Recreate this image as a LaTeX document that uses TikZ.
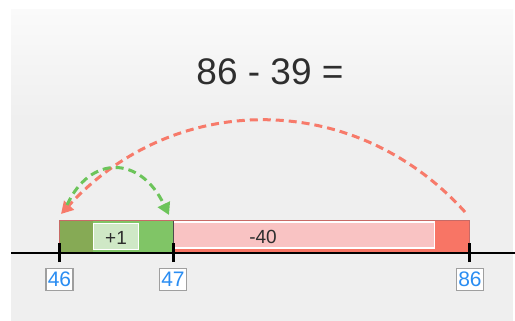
\documentclass[tikz,border=0pt]{standalone}
\usepackage{fontspec}
\setmainfont{Liberation Sans}
\usetikzlibrary{arrows.meta}
\definecolor{panelTop}{HTML}{FAFAFA}
\definecolor{panelBot}{HTML}{EFEFEF}
\definecolor{darkgreen}{HTML}{86AA55}
\definecolor{midgreen}{HTML}{80C566}
\definecolor{palegreen}{HTML}{CFE8C6}
\definecolor{pinkfill}{HTML}{F9C3C3}
\definecolor{salmon}{HTML}{F87565}
\definecolor{arcred}{HTML}{F77A6A}
\definecolor{arcgreen}{HTML}{6CC45A}
\definecolor{labelblue}{HTML}{2A8DF2}
\definecolor{barborder}{HTML}{C76A66}
\definecolor{textgray}{HTML}{2E2E2E}
\tikzset{
  tick/.style={line width=3pt, black},
  numlabel/.style={draw=gray!75, line width=1.6pt, fill=white, text=labelblue, font=\fontsize{21}{21}\selectfont, minimum width=27pt, minimum height=22pt, inner sep=0.5pt},
  hop/.style={line width=3pt, dash pattern=on 8pt off 5pt, -{Triangle[length=12pt,width=13pt]}}
}
\begin{document}
\begin{tikzpicture}[x=1pt,y=-1pt]
\useasboundingbox (0,0) rectangle (515,321);
\fill[white] (0,0) rectangle (515,321);
\shade[top color=panelTop, bottom color=panelBot] (11,10) rectangle (513,120);
\fill[panelBot] (11,119.5) rectangle (513,321);
% title
\node[text=textgray] (title) at (270,72) {\fontsize{37}{37}\selectfont 86 - 39 =};
% bar segments
\fill[darkgreen] (59,221) rectangle (93,252);
\fill[midgreen] (93,221) rectangle (173,252);
\fill[salmon] (173,221) rectangle (469,252);
\node[draw=white, line width=1.2pt, fill=palegreen, minimum width=45pt, minimum height=26pt, inner sep=0pt] (plusbox) at (116,236.5) {};
\node[text=textgray] (plus) at (116,237.5) {\fontsize{19}{19}\selectfont +1};
\node[draw=white, line width=1.2pt, fill=pinkfill, minimum width=261pt, minimum height=26pt, inner sep=0pt] (minusbox) at (304,235) {};
\node[text=textgray] (minus) at (263,237) {\fontsize{19}{19}\selectfont -40};
\draw[barborder, line width=1pt] (59,252) -- (59,220.5) -- (469,220.5) -- (469,252);
\draw[black!70, line width=1pt] (173,221) -- (173,252);
% number line
\coordinate (L) at (11,253);
\coordinate (R) at (515,253);
\draw[line width=2.8pt] (L) -- (R);
\coordinate (t46) at (59,253);
\coordinate (t47) at (173,253);
\coordinate (t86) at (469,253);
\foreach \t in {t46,t47,t86} \draw[tick] ([yshift=-9pt]\t) -- ([yshift=10pt]\t);
\node[numlabel] (n46) at (59.5,279.5) {46};
\node[numlabel] (n47) at (173,279.5) {47};
\node[numlabel] (n86) at (470,279.5) {86};
% arcs
\coordinate (rs) at (465,212);
\coordinate (re) at (61,214);
\draw[hop, arcred] (rs) .. controls (355,90) and (175,90) .. (re);
\coordinate (gs) at (67,205);
\coordinate (ge) at (169,215);
\draw[hop, arcgreen] (gs) .. controls (90,155) and (140,155) .. (ge);
\end{tikzpicture}
\end{document}
